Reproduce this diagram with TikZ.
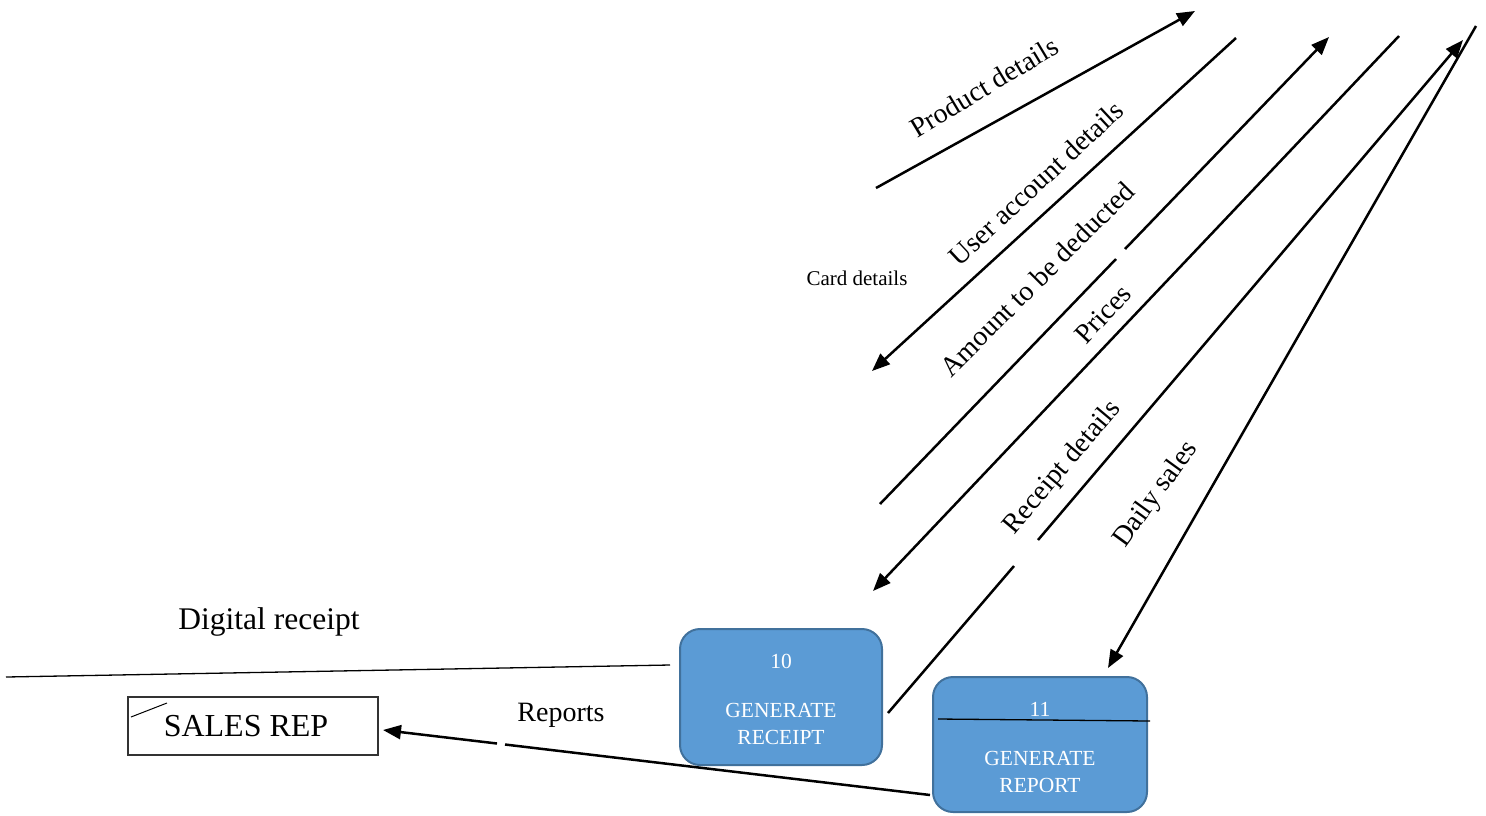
\documentclass[tikz,border=0pt]{standalone}
\usepackage{fontspec}
\setmainfont{Liberation Serif}
\usetikzlibrary{arrows.meta}
\definecolor{procfill}{HTML}{5B9BD5}
\definecolor{procedge}{HTML}{41719C}
\tikzset{
  flow/.style={line width=2.5pt, -{Triangle[length=18pt,width=14pt]}},
  flowplain/.style={line width=2.5pt},
  flowlabel/.style={font=\fontsize{28}{30}\selectfont, inner sep=0pt},
  proc/.style={draw=procedge, line width=2pt, fill=procfill, rounded corners=20pt},
  proctext/.style={text=white, font=\fontsize{21.5}{23}\selectfont, inner sep=0pt},
  entity/.style={draw=black!80, line width=1.2pt, minimum width=250pt, minimum height=58pt, inner sep=0pt},
}
\begin{document}
\begin{tikzpicture}[x=1pt,y=-1pt]
\useasboundingbox (0,0) rectangle (1486,815);

% processes
\node[proc, minimum width=202pt, minimum height=136pt] (p10) at (781,697) {};
\node[proctext] (p10n) at (781,661) {10};
\node[proctext] (p10a) at (781,710) {GENERATE};
\node[proctext] (p10b) at (781,737) {RECEIPT};

\node[proc, minimum width=214pt, minimum height=135pt] (p11) at (1040,744.5) {};
\node[proctext] (p11n) at (1040,709) {11};
\node[proctext] (p11a) at (1040,758) {GENERATE};
\node[proctext] (p11b) at (1040,785) {REPORT};
\coordinate (d11a) at (938,719);
\coordinate (d11b) at (1150,721);
\draw[line width=1.3pt] (d11a) -- (d11b);

% external entity
\node[entity] (rep) at (253,726) {};
\node[font=\fontsize{32}{34}\selectfont, inner sep=0pt] (reptext) at (246,726) {SALES REP};
\coordinate (tick1) at (131,717);
\coordinate (tick2) at (167,703);
\draw[line width=1pt] (tick1) -- (tick2);

% digital receipt line
\coordinate (dr1) at (6,677);
\coordinate (dr2) at (670,665);
\draw[line width=1.3pt] (dr1) -- (dr2);
\node[font=\fontsize{31.5}{33}\selectfont, inner sep=0pt] (drl) at (269,622) {Digital receipt};

% reports flow
\coordinate (rs) at (930,795);
\coordinate (rg1) at (505,744.5);
\coordinate (rg2) at (497,743.5);
\coordinate (re) at (383,730);
\draw[flowplain] (rs) -- (rg1);
\draw[flow] (rg2) -- (re);
\node[flowlabel] (rl) at (561,715) {Reports};

% product details
\coordinate (pd1) at (876,188);
\coordinate (pd2) at (1195,11);
\draw[flow] (pd1) -- (pd2);
\node[flowlabel, rotate=31] (pdl) at (984,87) {Product details};

% user account details
\coordinate (ua1) at (1236,38);
\coordinate (ua2) at (872,371);
\draw[flow] (ua1) -- (ua2);
\node[flowlabel, rotate=43] (ual) at (1036,183) {User account details};

\node[font=\fontsize{21}{23}\selectfont, inner sep=0pt] (cd) at (857,278) {Card details};

% amount to be deducted
\coordinate (am1) at (880,504);
\coordinate (am2) at (1116,259);
\coordinate (am3) at (1125,249);
\coordinate (am4) at (1329,37);
\draw[flowplain] (am1) -- (am2);
\draw[flow] (am3) -- (am4);
\node[flowlabel, rotate=45] (aml) at (1037,279) {Amount to be deducted};

% prices
\coordinate (pr1) at (1399,36);
\coordinate (pr2) at (873,591);
\draw[flow] (pr1) -- (pr2);
\node[flowlabel, rotate=47] (prl) at (1103,314) {Prices};

% receipt details
\coordinate (rd1) at (888,713);
\coordinate (rd2) at (1014,566);
\coordinate (rd3) at (1038,540);
\coordinate (rd4) at (1463,40);
\draw[flowplain] (rd1) -- (rd2);
\draw[flow] (rd3) -- (rd4);
\node[flowlabel, rotate=50] (rdl) at (1063,468) {Receipt details};

% daily sales
\coordinate (ds1) at (1476,26);
\coordinate (ds2) at (1108,668);
\draw[flow] (ds1) -- (ds2);
\node[flowlabel, rotate=54] (dsl) at (1156,495) {Daily sales};
\end{tikzpicture}
\end{document}
